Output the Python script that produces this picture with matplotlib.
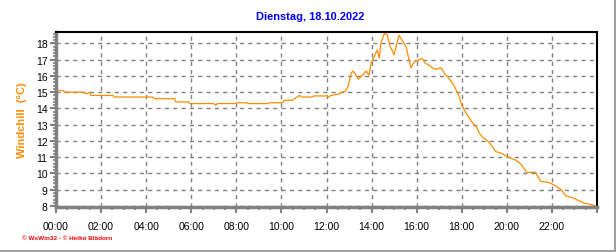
import numpy as np
import matplotlib.pyplot as plt
from matplotlib.ticker import MultipleLocator, FuncFormatter
from matplotlib.lines import Line2D

# time of day in hours, windchill in degC
hours = [0.00, 0.35, 0.37, 1.19, 1.37, 1.50, 1.55, 2.52, 2.57, 4.29,
         4.38, 5.27, 5.31, 5.88, 5.93, 6.99, 7.08, 7.17, 7.92, 8.01,
         8.45, 8.50, 9.38, 9.47, 10.04, 10.13, 10.49, 10.58, 10.80, 10.88,
         11.37, 11.42, 12.04, 12.08, 12.21, 12.57, 12.70, 12.83, 12.96, 13.10,
         13.19, 13.41, 13.63, 13.76, 13.89, 13.98, 14.12, 14.25, 14.34, 14.42,
         14.56, 14.69, 14.82, 15.00, 15.09, 15.22, 15.40, 15.53, 15.66, 15.75,
         15.88, 16.06, 16.24, 16.37, 16.55, 16.81, 17.08, 17.26, 17.52, 17.65,
         17.88, 18.01, 18.23, 18.41, 18.67, 18.76, 18.94, 19.20, 19.51, 19.78,
         20.09, 20.40, 20.62, 20.88, 21.28, 21.50, 21.86, 22.17, 22.43, 22.61,
         22.96, 23.19, 23.45, 23.85, 23.94]
windchill = [15.1, 15.1, 15.0, 15.0, 14.9, 15.0, 14.8, 14.8, 14.7, 14.7,
             14.6, 14.6, 14.4, 14.4, 14.3, 14.3, 14.2, 14.3, 14.3, 14.35,
             14.35, 14.3, 14.3, 14.35, 14.35, 14.5, 14.5, 14.6, 14.8, 14.7,
             14.7, 14.77, 14.77, 14.7, 14.8, 14.9, 15.0, 15.05, 15.38, 16.2,
             16.3, 15.8, 16.1, 16.3, 16.04, 16.8, 17.2, 17.6, 17.1, 18.04,
             18.6, 18.55, 17.83, 17.3, 17.83, 18.5, 18.08, 17.8, 17.0, 16.5,
             16.85, 16.96, 17.08, 16.8, 16.65, 16.4, 16.5, 16.1, 15.7, 15.42,
             14.77, 14.15, 13.64, 13.23, 12.83, 12.52, 12.2, 11.94, 11.35, 11.23,
             10.99, 10.82, 10.58, 10.07, 10.07, 9.52, 9.45, 9.24, 8.98, 8.63,
             8.49, 8.33, 8.17, 8.06, 7.98]

title = "Dienstag, 18.10.2022"
ylabel = "Windchill  (°C)"
footer = "© WsWin32 - © Heiko Blädorn"

plt.rcParams['font.family'] = ['Liberation Sans', 'DejaVu Sans']

fig = plt.figure(figsize=(6.16, 2.53), dpi=100)
ax = fig.add_axes([56/616, 1-208/253, 541/616, 175/253])

ax.plot(hours, windchill, color="#ff8c00", lw=0.9)

ax.set_xlim(0, 24)
ax.set_ylim(7.94, 18.7)
ax.xaxis.set_major_locator(MultipleLocator(2))
ax.xaxis.set_minor_locator(MultipleLocator(0.5))
ax.xaxis.set_major_formatter(FuncFormatter(lambda v, p: "%02d:00" % int(v) if v < 24 else ""))
ax.yaxis.set_major_locator(MultipleLocator(1))
ax.yaxis.set_minor_locator(MultipleLocator(0.2))

ax.grid(True, which="major", color="#808080", ls=(0, (3, 3)), lw=1)
ax.tick_params(axis="both", which="major", labelsize=7.5, colors="#808080",
               labelcolor="black", width=1.5, length=4)
ax.tick_params(axis="both", which="minor", colors="#808080", width=1.2, length=2)
ax.tick_params(axis="x", pad=6)
ax.tick_params(axis="y", pad=2)

for s in ("left", "bottom"):
    ax.spines[s].set_color("#808080")
    ax.spines[s].set_linewidth(2.5)
for s in ("top", "right"):
    ax.spines[s].set_color("black")
    ax.spines[s].set_linewidth(1.5)

fig.text(310/616, 1-17/253, title, color="#0000ff", fontsize=7.9,
         fontweight="bold", ha="center", va="center")
fig.text(22/616, 1-120/253, ylabel, color="#ff8c00", fontsize=8,
         fontweight="bold", rotation=90, ha="center", va="center")
fig.text(22/616, 1-239/253, footer, color="#ff0000", fontsize=4.6,
         fontweight="bold", ha="left", va="center")

# outer figure frame (right and bottom edges)
fig.add_artist(Line2D([0, 614.5/616], [1-251.5/253, 1-251.5/253],
                      transform=fig.transFigure, color="#a0a0a0", lw=1.5))
fig.add_artist(Line2D([614.5/616, 614.5/616], [1-251.5/253, 1],
                      transform=fig.transFigure, color="#a0a0a0", lw=1.5))

fig.savefig("out.png", dpi=100, facecolor="white")
